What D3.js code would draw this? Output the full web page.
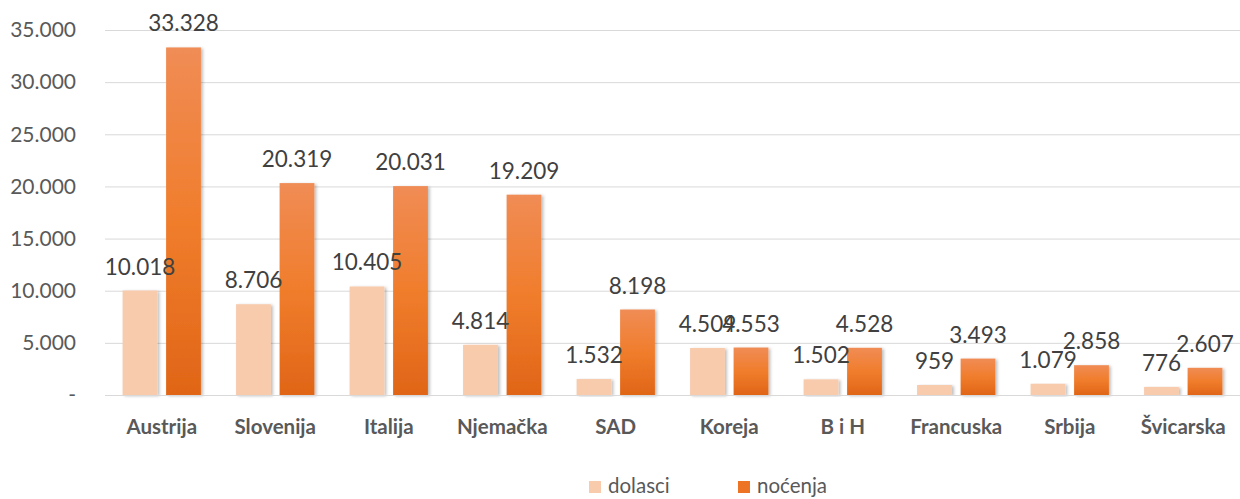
<!DOCTYPE html>
<html>
<head>
<meta charset="utf-8">
<script src="https://cdn.jsdelivr.net/npm/d3@7"></script>
<style>
  body { margin: 0; background: #fff; }
  svg { display: block; font-family: Lato, "Open Sans", sans-serif; }
</style>
</head>
<body>
<div id="chart"></div>
<script>
// podaci
const countries = ['Austrija', 'Slovenija', 'Italija', 'Njemačka', 'SAD', 'Koreja', 'B i H', 'Francuska', 'Srbija', 'Švicarska'];
const dolasci = [10018, 8706, 10405, 4814, 1532, 4509, 1502, 959, 1079, 776];
const nocenja = [33328, 20319, 20031, 19209, 8198, 4553, 4528, 3493, 2858, 2607];
const seriesNames = ['dolasci', 'noćenja'];
const yTicks = [0, 5000, 10000, 15000, 20000, 25000, 30000, 35000];

const width = 1240, height = 499;
const margin = { top: 30, right: 0, bottom: 104, left: 105 };

const locale = d3.formatLocale({ decimal: ',', thousands: '.', grouping: [3], currency: ['', ''] });
const fmt = locale.format(',d');

const svg = d3.select('#chart').append('svg')
    .attr('width', width)
    .attr('height', height);

const defs = svg.append('defs');
const grad = defs.append('linearGradient')
    .attr('id', 'orangeGrad')
    .attr('x1', '0%').attr('y1', '0%')
    .attr('x2', '0%').attr('y2', '100%');
grad.append('stop').attr('offset', '0%').attr('stop-color', '#F08C55');
grad.append('stop').attr('offset', '50%').attr('stop-color', '#F07D2C');
grad.append('stop').attr('offset', '100%').attr('stop-color', '#E06517');

const shadow = defs.append('filter').attr('id', 'shadow')
    .attr('x', '-20%').attr('y', '-5%').attr('width', '150%').attr('height', '115%');
shadow.append('feDropShadow')
    .attr('dx', 2).attr('dy', 1).attr('stdDeviation', 1.5)
    .attr('flood-color', '#000').attr('flood-opacity', 0.25);

const x0 = d3.scaleBand()
    .domain(countries)
    .range([margin.left, width - margin.right])
    .paddingInner(0.31)
    .paddingOuter(0.155);

const x1 = d3.scaleBand()
    .domain(seriesNames)
    .range([0, x0.bandwidth()])
    .paddingInner(0.2);

const y = d3.scaleLinear()
    .domain([0, 35000])
    .range([height - margin.bottom, margin.top]);

// mreža
svg.append('g')
    .selectAll('line')
    .data(yTicks.slice(1))
    .join('line')
    .attr('x1', margin.left)
    .attr('x2', width - margin.right)
    .attr('y1', d => y(d) + 0.5)
    .attr('y2', d => y(d) + 0.5)
    .attr('stroke', '#d9d9d9')
    .attr('stroke-width', 1);

// y os
svg.append('g')
    .selectAll('text')
    .data(yTicks)
    .join('text')
    .attr('x', 76)
    .attr('y', d => y(d))
    .attr('dy', '0.35em')
    .attr('text-anchor', 'end')
    .attr('fill', '#595959')
    .style('font-size', '21px')
    .text(d => d === 0 ? '-' : fmt(d));

const colors = { dolasci: '#F8CBAD', 'noćenja': 'url(#orangeGrad)' };
const data = countries.map((c, i) => ({ country: c, values: [
    { key: 'dolasci', value: dolasci[i] },
    { key: 'noćenja', value: nocenja[i] }
]}));

const groups = svg.append('g')
    .selectAll('g')
    .data(data)
    .join('g')
    .attr('transform', d => `translate(${x0(d.country)},0)`);

groups.selectAll('rect')
    .data(d => d.values)
    .join('rect')
    .attr('x', d => x1(d.key))
    .attr('y', d => y(d.value))
    .attr('width', x1.bandwidth())
    .attr('height', d => y(0) - y(d.value))
    .attr('fill', d => colors[d.key])
    .attr('filter', 'url(#shadow)');

// x os linija
svg.append('line')
    .attr('x1', margin.left)
    .attr('x2', width - margin.right)
    .attr('y1', y(0) + 0.5)
    .attr('y2', y(0) + 0.5)
    .attr('stroke', '#d9d9d9');

// oznake vrijednosti
groups.selectAll('text.val')
    .data(d => d.values)
    .join('text')
    .attr('class', 'val')
    .attr('x', d => x1(d.key) + x1.bandwidth() / 2)
    .attr('y', d => y(d.value) - 16)
    .attr('text-anchor', 'middle')
    .attr('fill', '#404040')
    .style('font-size', '22.5px')
    .text(d => fmt(d.value));

// kategorije
svg.append('g')
    .selectAll('text')
    .data(countries)
    .join('text')
    .attr('x', d => x0(d) + x0.bandwidth() / 2)
    .attr('y', 427)
    .attr('dy', '0.35em')
    .attr('text-anchor', 'middle')
    .attr('fill', '#595959')
    .style('font-size', '20.5px')
    .style('font-weight', 'bold')
    .text(d => d);

// legenda
const legend = svg.append('g');
const legendItems = [
    { name: 'dolasci', color: '#F8CBAD', x: 589 },
    { name: 'noćenja', color: '#EC7424', x: 738 }
];
legendItems.forEach(item => {
    legend.append('rect')
        .attr('x', item.x)
        .attr('y', 481)
        .attr('width', 12)
        .attr('height', 12)
        .attr('fill', item.color);
    legend.append('text')
        .attr('x', item.x + 19)
        .attr('y', 486)
        .attr('dy', '0.35em')
        .attr('fill', '#595959')
        .style('font-size', '20.5px')
        .text(item.name);
});
</script>
</body>
</html>
